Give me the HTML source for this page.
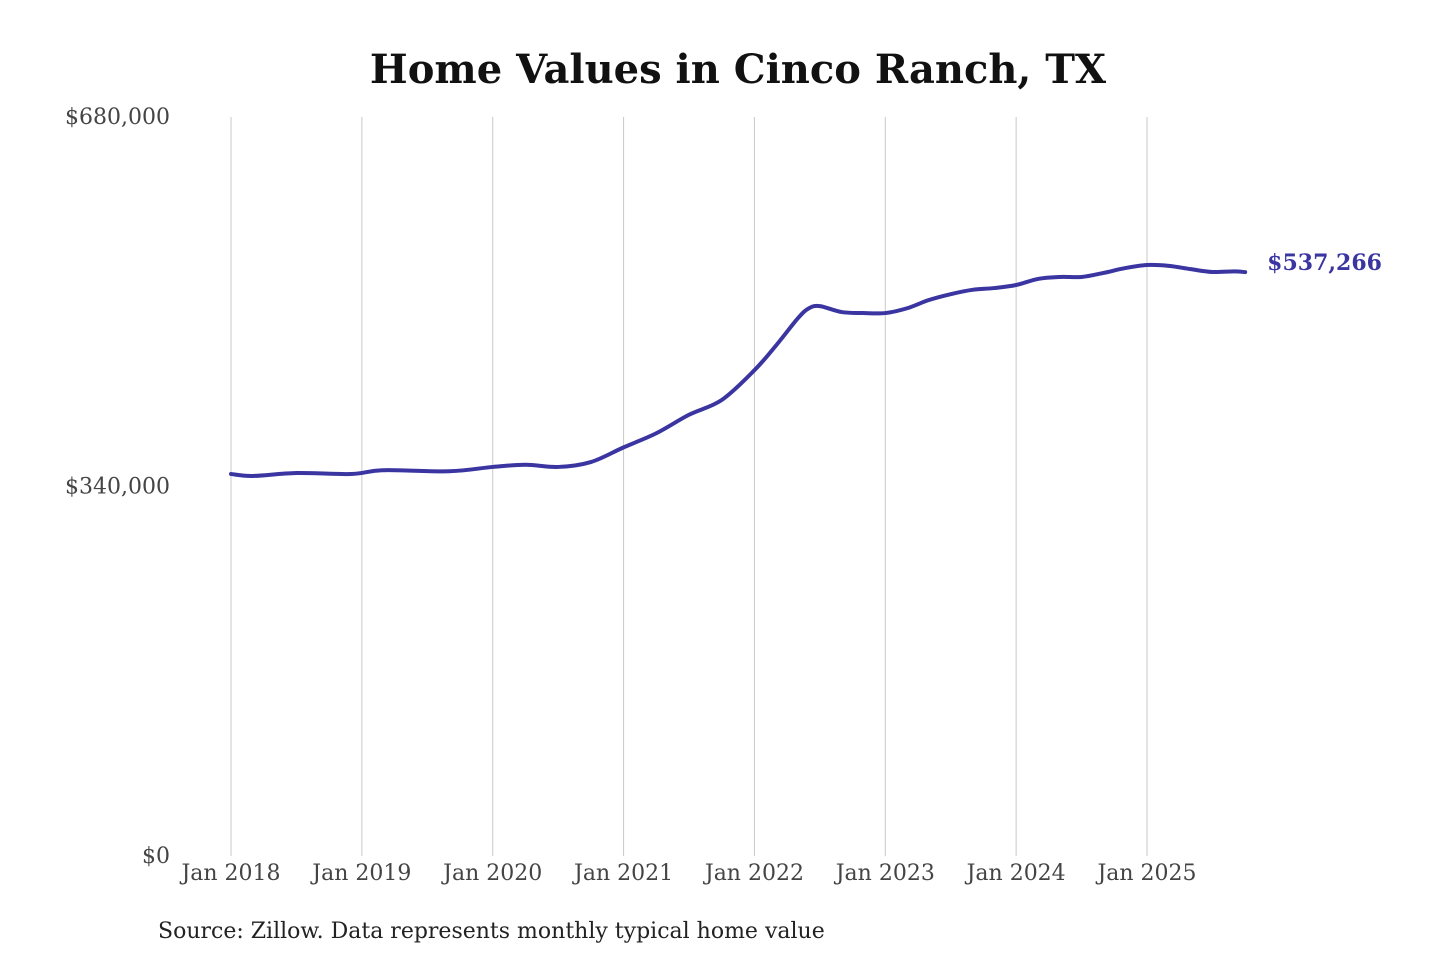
<!DOCTYPE html>
<html><head><meta charset="utf-8"><style>
body{margin:0;background:#fff;}
svg{display:block;}
</style></head><body>
<svg width="1440" height="960" id="chart">
<text x="738" y="83" text-anchor="middle" font-family="DejaVu Serif, serif" font-weight="bold" font-size="40" fill="#111">Home Values in Cinco Ranch, TX</text>
<g id="grid"></g>
<g id="yaxis"></g>
<g id="xaxis"></g>
<path id="line" fill="none" stroke="#3a35a0" stroke-width="4" stroke-linejoin="round" stroke-linecap="round"></path>
<text id="endlabel" font-family="DejaVu Serif, serif" font-weight="bold" font-size="22" fill="#3a35a0"></text>
<text x="158" y="938" font-family="DejaVu Serif, serif" font-size="22" fill="#222">Source: Zillow. Data represents monthly typical home value</text>
</svg>
<script>
const months = [0,2,6,11,14,20,24,27,30,33,36,39,42,45,48,50,52,53,54,56,58,60,62,64,66,68,70,72,74,76,78,80,82,84,86,88,90,92,93];
const values = [351500,349700,352400,351500,355000,354000,358000,360000,358000,362500,376000,389000,406000,419600,447000,470000,495000,504000,506000,500500,499600,499600,504000,511600,517000,521000,522600,525400,531000,532800,532800,536500,541000,543800,543000,540000,537400,538000,537266];
const yTicks = [0,340000,680000];
const yTickLabels = ["$0","$340,000","$680,000"];
const xTickMonths = [0,12,24,36,48,60,72,84];
const xTickLabels = ["Jan 2018","Jan 2019","Jan 2020","Jan 2021","Jan 2022","Jan 2023","Jan 2024","Jan 2025"];
const endLabel = "$537,266";

const X = m => 231 + m * (1147 - 231) / 84;
const Y = v => 856 - v / 680000 * 739;
const NS = "http://www.w3.org/2000/svg";
const mk = (tag, attrs, parent) => { const e = document.createElementNS(NS, tag); for (const k in attrs) e.setAttribute(k, attrs[k]); parent.appendChild(e); return e; };

const grid = document.getElementById('grid');
const xa = document.getElementById('xaxis');
xTickMonths.forEach((m, i) => {
  const l = mk('line', {x1: X(m), x2: X(m), y1: Y(680000), y2: 856, stroke: '#c8c8c8', 'stroke-width': 1}, grid);
  
  
  const t = mk('text', {x: X(m), y: 880, 'text-anchor': 'middle', 'font-family': 'DejaVu Serif, serif', 'font-size': 22, fill: '#444'}, xa);
  t.textContent = xTickLabels[i];
  
  
});
const ya = document.getElementById('yaxis');
yTicks.forEach((v, i) => {
  const t = mk('text', {x: 170, y: Y(v) + 7, 'text-anchor': 'end', 'font-family': 'DejaVu Serif, serif', 'font-size': 22, fill: '#444'}, ya);
  t.textContent = yTickLabels[i];
  
  
});

const pts = months.map((m, i) => [X(m), Y(values[i])]);
let d = `M${pts[0][0]},${pts[0][1]}`;
for (let i = 0; i < pts.length - 1; i++) {
  const p0 = pts[Math.max(0, i - 1)], p1 = pts[i], p2 = pts[i + 1], p3 = pts[Math.min(pts.length - 1, i + 2)];
  const c1 = [p1[0] + (p2[0] - p0[0]) / 6, p1[1] + (p2[1] - p0[1]) / 6];
  const c2 = [p2[0] - (p3[0] - p1[0]) / 6, p2[1] - (p3[1] - p1[1]) / 6];
  d += ` C${c1[0]},${c1[1]} ${c2[0]},${c2[1]} ${p2[0]},${p2[1]}`;
}
document.getElementById('line').setAttribute('d', d);
const last = pts[pts.length - 1];
const el = document.getElementById('endlabel');
el.setAttribute('x', last[0] + 22);
el.setAttribute('y', last[1] - 2);
el.textContent = endLabel;
</script>
</body></html>
